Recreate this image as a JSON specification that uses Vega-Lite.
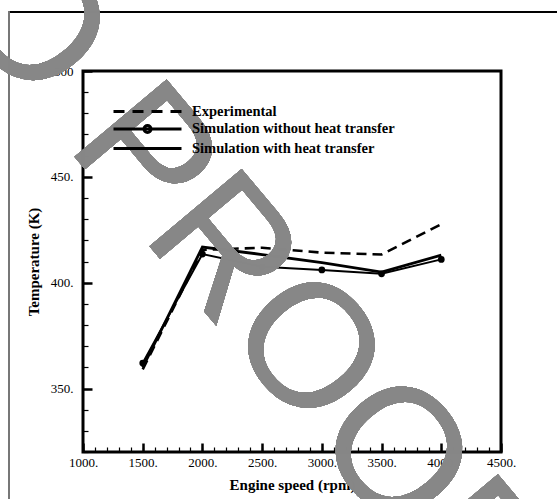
{
  "$schema": "https://vega.github.io/schema/vega-lite/v6.json",
  "width": 418,
  "height": 381,
  "autosize": "none",
  "padding": {"left": 83, "top": 71, "right": 56, "bottom": 47},
  "background": "white",
  "config": {
    "view": {"stroke": "black", "strokeWidth": 3},
    "font": "Liberation Serif",
    "axis": {"labelOverlap": false, "labelFlush": false, "grid": false}
  },
  "data": {
    "values": [
      {"series": "Experimental", "rpm": 1500, "temp": 359},
      {"series": "Experimental", "rpm": 2000, "temp": 415.5},
      {"series": "Experimental", "rpm": 2500, "temp": 416.5},
      {"series": "Experimental", "rpm": 3000, "temp": 414.2},
      {"series": "Experimental", "rpm": 3500, "temp": 413.3},
      {"series": "Experimental", "rpm": 4000, "temp": 427.6},
      {"series": "Simulation without heat transfer", "rpm": 1500, "temp": 362},
      {"series": "Simulation without heat transfer", "rpm": 2000, "temp": 413.5},
      {"series": "Simulation without heat transfer", "rpm": 2500, "temp": 407.5},
      {"series": "Simulation without heat transfer", "rpm": 3000, "temp": 406},
      {"series": "Simulation without heat transfer", "rpm": 3500, "temp": 404.2},
      {"series": "Simulation without heat transfer", "rpm": 4000, "temp": 411},
      {"series": "Simulation with heat transfer", "rpm": 1500, "temp": 360},
      {"series": "Simulation with heat transfer", "rpm": 2000, "temp": 416.8},
      {"series": "Simulation with heat transfer", "rpm": 2500, "temp": 413.3},
      {"series": "Simulation with heat transfer", "rpm": 3000, "temp": 409.5},
      {"series": "Simulation with heat transfer", "rpm": 3500, "temp": 405},
      {"series": "Simulation with heat transfer", "rpm": 4000, "temp": 413}
    ]
  },
  "resolve": {"axis": {"x": "independent", "y": "independent"}},
  "layer": [
    {
      "mark": {"type": "rule", "color": "black", "strokeWidth": 1, "clip": false},
      "encoding": {
        "x": {"datum": 380, "type": "quantitative", "axis": null},
        "x2": {"datum": 5300},
        "y": {"datum": 528, "type": "quantitative", "axis": null}
      }
    },
    {
      "mark": {"type": "rule", "color": "#777777", "strokeWidth": 1, "clip": false},
      "encoding": {
        "x": {"datum": 380, "type": "quantitative", "axis": null},
        "y": {"datum": 528, "type": "quantitative", "axis": null},
        "y2": {"datum": 290}
      }
    },
    {
      "transform": [{"filter": "datum.series === 'Experimental'"}],
      "mark": {"type": "line", "color": "black", "strokeWidth": 2.6, "strokeDash": [10, 6]},
      "encoding": {
        "x": {
          "field": "rpm", "type": "quantitative",
          "scale": {"domain": [1000, 4500], "nice": false, "zero": false},
          "axis": {
            "orient": "bottom",
            "values": [1000, 1500, 2000, 2500, 3000, 3500, 4000, 4500],
            "format": "d",
            "labelExpr": "datum.label + '.'",
            "offset": -9, "tickSize": 9, "tickWidth": 2.5, "tickColor": "black",
            "domain": false,
            "labelFont": "Liberation Serif", "labelFontSize": 13, "labelColor": "black",
            "labelPadding": 4,
            "title": "Engine speed (rpm)", "titleFont": "Liberation Serif", "titleFontSize": 15,
            "titleFontWeight": "bold", "titleColor": "black", "titlePadding": 8
          }
        },
        "y": {
          "field": "temp", "type": "quantitative",
          "scale": {"domain": [320, 500], "nice": false, "zero": false},
          "axis": {
            "orient": "left",
            "values": [350, 400, 450, 500],
            "format": "d",
            "labelExpr": "datum.value === 500 ? datum.label : datum.label + '.'",
            "offset": -9, "tickSize": 9, "tickWidth": 2.5, "tickColor": "black",
            "domain": false,
            "labelFont": "Liberation Serif", "labelFontSize": 13, "labelColor": "black",
            "labelPadding": 10,
            "title": "Temperature (K)", "titleFont": "Liberation Serif", "titleFontSize": 15,
            "titleFontWeight": "bold", "titleColor": "black", "titlePadding": 9
          }
        }
      }
    },
    {
      "transform": [{"filter": "datum.series === 'Simulation without heat transfer'"}],
      "mark": {"type": "line", "color": "black", "strokeWidth": 2},
      "encoding": {
        "x": {
          "field": "rpm", "type": "quantitative",
          "axis": {
            "orient": "bottom",
            "values": [1000,1100,1200,1300,1400,1500,1600,1700,1800,1900,2000,2100,2200,2300,2400,2500,2600,2700,2800,2900,3000,3100,3200,3300,3400,3500,3600,3700,3800,3900,4000,4100,4200,4300,4400,4500],
            "labels": false, "domain": false, "title": null,
            "offset": -5, "tickSize": 5, "tickWidth": 1.2, "tickColor": "black"
          }
        },
        "y": {
          "field": "temp", "type": "quantitative",
          "axis": {
            "orient": "left",
            "values": [320,330,340,350,360,370,380,390,400,410,420,430,440,450,460,470,480,490,500],
            "labels": false, "domain": false, "title": null,
            "offset": -5, "tickSize": 5, "tickWidth": 1.2, "tickColor": "black"
          }
        }
      }
    },
    {
      "transform": [{"filter": "datum.series === 'Simulation with heat transfer'"}],
      "mark": {"type": "line", "color": "black", "strokeWidth": 2.8},
      "encoding": {
        "x": {"field": "rpm", "type": "quantitative", "axis": null},
        "y": {"field": "temp", "type": "quantitative", "axis": null}
      }
    },
    {
      "transform": [{"filter": "datum.series === 'Simulation without heat transfer'"}],
      "mark": {"type": "point", "shape": "circle", "filled": true, "color": "black", "size": 45, "opacity": 1},
      "encoding": {
        "x": {"field": "rpm", "type": "quantitative", "axis": null},
        "y": {"field": "temp", "type": "quantitative", "axis": null}
      }
    },
    {
      "mark": {"type": "point", "filled": false, "color": "black", "opacity": 1, "size": 0, "strokeWidth": 3},
      "encoding": {
        "x": {"field": "rpm", "type": "quantitative", "axis": null},
        "y": {"field": "temp", "type": "quantitative", "axis": null},
        "shape": {
          "field": "series", "type": "nominal",
          "scale": {
            "domain": ["Experimental", "Simulation without heat transfer", "Simulation with heat transfer"],
            "range": [
              "M-4.857,0H-3.286M-2.143,0H-0.571M0.571,0H2.143M3.286,0H4.857",
              "M-4.857,0H4.857M0.5,0A0.5,0.5 0 1,1 -0.5,0A0.5,0.5 0 1,1 0.5,0Z",
              "M-4.857,0H4.857"
            ]
          },
          "legend": {
            "title": null,
            "orient": "none",
            "legendX": 56,
            "legendY": 32,
            "padding": 0,
            "symbolSize": 196,
            "symbolOpacity": 1,
            "symbolStrokeColor": "black",
            "symbolStrokeWidth": 3,
            "symbolFillColor": "black",
            "labelOffset": 36,
            "labelFont": "Liberation Serif",
            "labelFontSize": 14.5,
            "labelFontWeight": "bold",
            "labelColor": "black",
            "labelLimit": 400,
            "rowPadding": 1.5
          }
        }
      }
    },
    {
      "mark": {"type": "text", "text": "O PROOF", "font": "Liberation Sans", "fontSize": 175, "angle": 50, "align": "center", "baseline": "middle", "color": "#878787", "opacity": 0.63},
      "encoding": {
        "x": {"datum": 2369, "type": "quantitative", "axis": null},
        "y": {"datum": 401.6, "type": "quantitative", "axis": null}
      }
    }
  ]
}
